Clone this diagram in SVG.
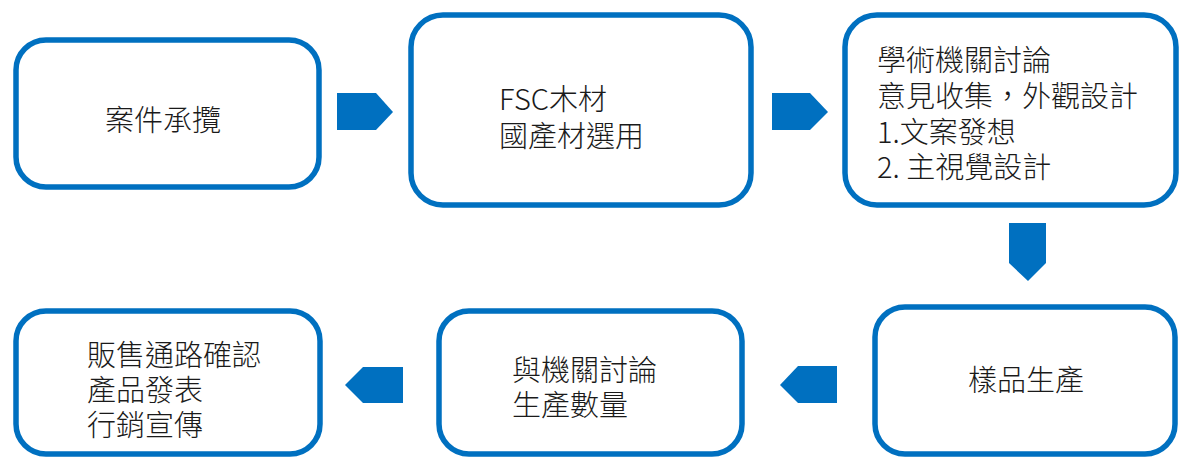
<svg xmlns="http://www.w3.org/2000/svg" width="1179" height="459" viewBox="0 0 1179 459">
<style>
.box{fill:#fff;stroke:#0070C0;stroke-width:5.5}
.arr{fill:#0070C0}
text{font-family:"Noto Sans CJK TC","Noto Sans CJK SC",sans-serif;font-size:29px;font-weight:300;fill:#1a1a1a}
</style>
<rect width="1179" height="459" fill="#fff"/>
<g id="connectors">
<polygon class="arr" points="337,93 376,93 393,112 376,130 337,130"/>
<polygon class="arr" points="772,93 810,93 828,112 810,130 772,130"/>
<polygon class="arr" points="1009,223 1046,223 1046,263 1028,281 1009,263"/>
<polygon class="arr" points="837,366 798,366 780,385 798,403 837,403"/>
<polygon class="arr" points="403,367 363,367 345,385 363,403 403,403"/>
</g>
<g id="n1">
<rect class="box" x="16" y="40" width="303" height="147" rx="30"/>
<text x="105" y="131">案件承攬</text>
</g>
<g id="n2">
<rect class="box" x="411" y="15" width="340" height="190" rx="32"/>
<text x="499" y="110">FSC木材</text>
<text x="499" y="147">國產材選用</text>
</g>
<g id="n3">
<rect class="box" x="845" y="15" width="331" height="190" rx="32"/>
<text x="877" y="71">學術機關討論</text>
<text x="877" y="107">意見收集，外觀設計</text>
<text x="877" y="143">1.文案發想</text>
<text x="877" y="178">2. 主視覺設計</text>
</g>
<g id="n4">
<rect class="box" x="875" y="307" width="300" height="147" rx="30"/>
<text x="968" y="391">樣品生產</text>
</g>
<g id="n5">
<rect class="box" x="439" y="311" width="303" height="143" rx="30"/>
<text x="512" y="381">與機關討論</text>
<text x="512" y="416">生產數量</text>
</g>
<g id="n6">
<rect class="box" x="16" y="311" width="304" height="143" rx="30"/>
<text x="87" y="366">販售通路確認</text>
<text x="87" y="401">產品發表</text>
<text x="87" y="436">行銷宣傳</text>
</g>
</svg>
